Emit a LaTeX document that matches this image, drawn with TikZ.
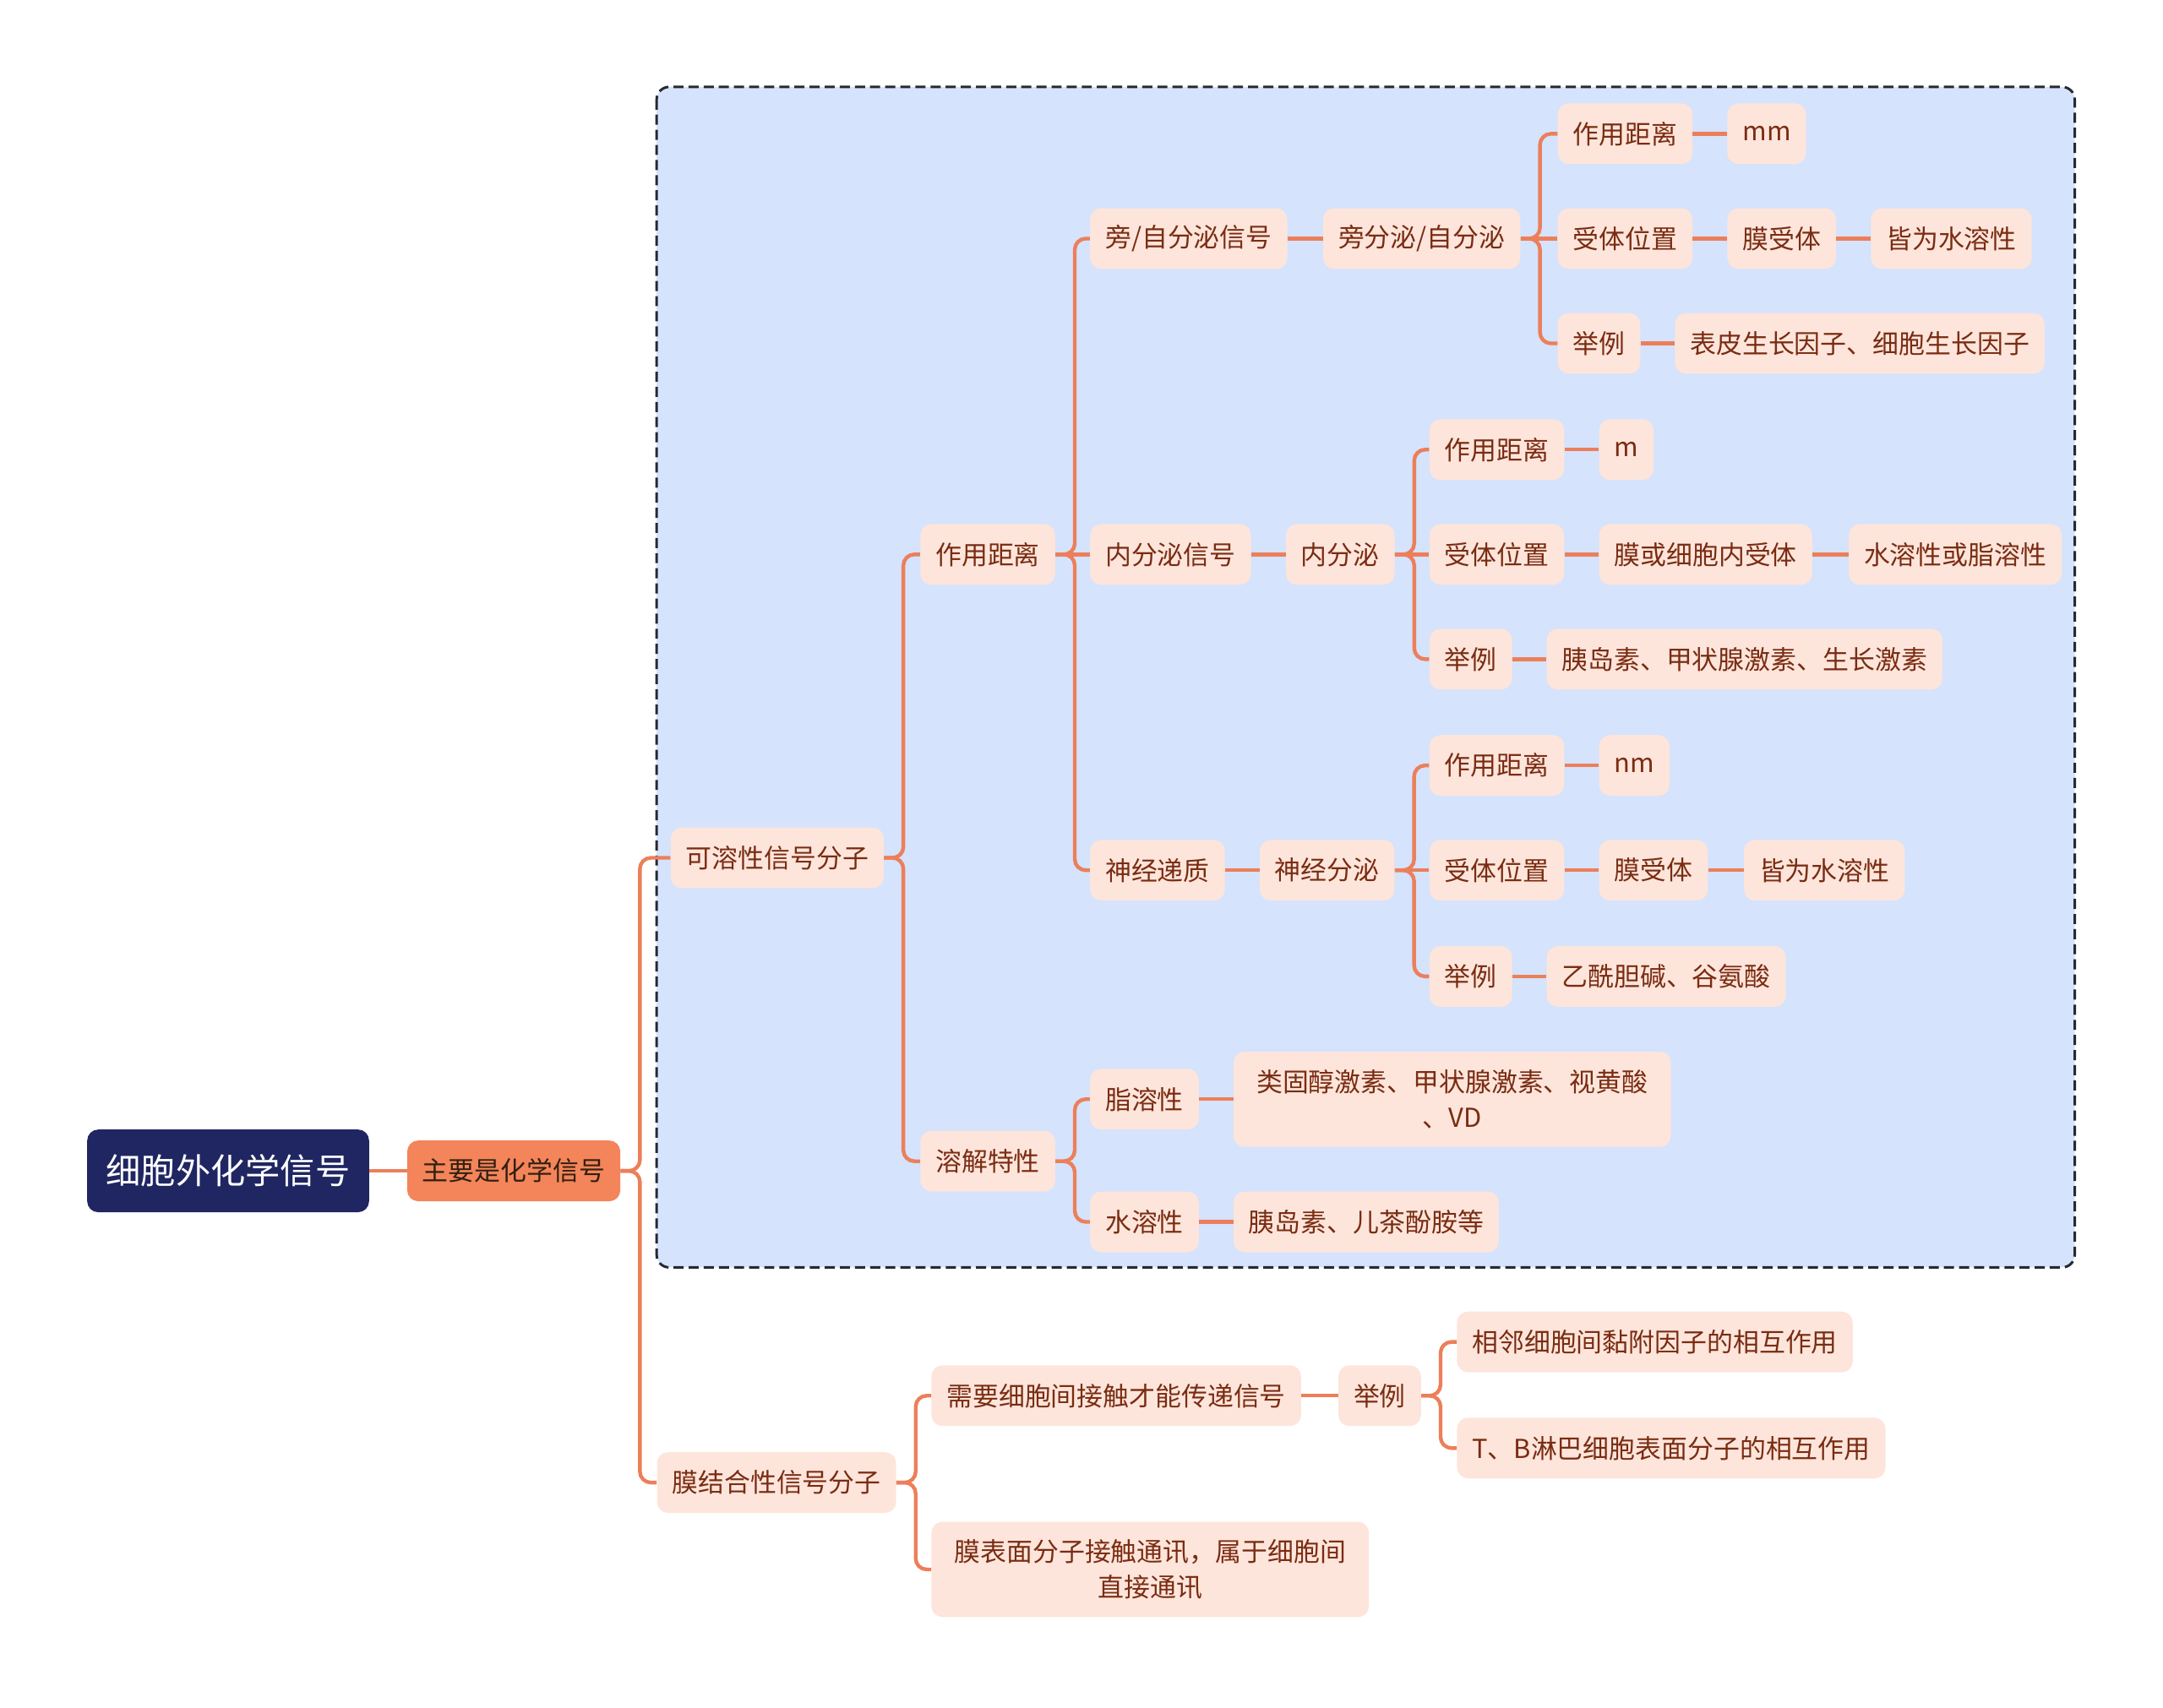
\documentclass[tikz,border=0pt]{standalone}
\usepackage{fontspec}
\setmainfont{Noto Sans CJK SC}
\usetikzlibrary{positioning}

\definecolor{navy}{HTML}{1F2662}
\definecolor{coral}{HTML}{F4845A}
\definecolor{peach}{HTML}{FDE5DB}
\definecolor{linecol}{HTML}{EC7F5A}
\definecolor{txt}{HTML}{7A2C12}
\definecolor{boxblue}{HTML}{D5E3FC}
\definecolor{boxline}{HTML}{262A30}

\begin{document}
\begin{tikzpicture}[x=0.0327cm, y=-0.0327cm,
    every node/.style={anchor=west, rounded corners=0.26cm, inner xsep=0.36cm,
      minimum height=1.44cm, font=\fontsize{17.6}{24}\selectfont},
    topic/.style={fill=peach, text=txt},
    central/.style={fill=navy, text=white, inner xsep=0.45cm, minimum height=1.96cm,
      font=\fontsize{23.5}{28}\selectfont},
    mainbranch/.style={fill=coral, text=black!75!brown},
    link/.style={draw=linecol, line width=2.5pt, rounded corners=0.26cm},
    ]
  \useasboundingbox (0,0) rectangle (1568,1238);
  % dashed group round the soluble molecules
  \draw[fill=boxblue, draw=boxline, dash pattern=on 6.8pt off 3.4pt, line width=1.7pt,
    rounded corners=0.3cm] (476,63) rectangle (1504,919);

  \node[central] (cell) at (63,849) {细胞外化学信号};
  \node[mainbranch] (chem) at (295,849) {主要是化学信号};
  \node[topic] (soluble) at (486,622) {可溶性信号分子};
  \node[topic] (membrane) at (476,1075) {膜结合性信号分子};

  \node[topic] (dist) at (667,402) {作用距离};
  \node[topic] (solub) at (667,842) {溶解特性};
  \node[topic] (para) at (790,173) {旁/自分泌信号};
  \node[topic] (endo) at (790,402) {内分泌信号};
  \node[topic] (neuro) at (790,631) {神经递质};

  % paracrine
  \node[topic] (paraSec) at (959,173) {旁分泌/自分泌};
  \node[topic] (paraDist) at (1129,97) {作用距离};
  \node[topic] (paraMm) at (1252,97) {mm};
  \node[topic] (paraRec) at (1129,173) {受体位置};
  \node[topic] (paraMem) at (1252,173) {膜受体};
  \node[topic] (paraWater) at (1356,173) {皆为水溶性};
  \node[topic] (paraEx) at (1129,249) {举例};
  \node[topic] (paraExList) at (1214,249) {表皮生长因子、细胞生长因子};

  % endocrine
  \node[topic] (endoSec) at (932,402) {内分泌};
  \node[topic] (endoDist) at (1036,326) {作用距离};
  \node[topic] (endoM) at (1159,326) {m};
  \node[topic] (endoRec) at (1036,402) {受体位置};
  \node[topic] (endoMem) at (1159,402) {膜或细胞内受体};
  \node[topic] (endoSol) at (1340,402) {水溶性或脂溶性};
  \node[topic] (endoEx) at (1036,478) {举例};
  \node[topic] (endoExList) at (1121,478) {胰岛素、甲状腺激素、生长激素};

  % neurotransmitter
  \node[topic] (neuroSec) at (913,631) {神经分泌};
  \node[topic] (neuroDist) at (1036,555) {作用距离};
  \node[topic] (neuroNm) at (1159,555) {nm};
  \node[topic] (neuroRec) at (1036,631) {受体位置};
  \node[topic] (neuroMem) at (1159,631) {膜受体};
  \node[topic] (neuroWater) at (1264,631) {皆为水溶性};
  \node[topic] (neuroEx) at (1036,708) {举例};
  \node[topic] (neuroExList) at (1121,708) {乙酰胆碱、谷氨酸};

  % solubility
  \node[topic] (lipid) at (790,797) {脂溶性};
  \node[topic, align=center, minimum width=10.37cm, minimum height=2.26cm] (lipidEx) at (894,797)
    {类固醇激素、甲状腺激素、视黄酸\\、VD};
  \node[topic] (water) at (790,886) {水溶性};
  \node[topic] (waterEx) at (894,886) {胰岛素、儿茶酚胺等};

  % membrane bound
  \node[topic] (contact) at (675,1012) {需要细胞间接触才能传递信号};
  \node[topic] (contactEx) at (970,1012) {举例};
  \node[topic] (adhesion) at (1056,973) {相邻细胞间黏附因子的相互作用};
  \node[topic] (lymph) at (1056,1050) {T、B淋巴细胞表面分子的相互作用};
  \node[topic, align=center, minimum width=10.37cm, minimum height=2.26cm] (direct) at (675,1138)
    {膜表面分子接触通讯，属于细胞间\\直接通讯};

  % elbow links
  \foreach \a/\b in {chem/soluble, chem/membrane,
      soluble/dist, soluble/solub, dist/para, dist/neuro,
      paraSec/paraDist, paraSec/paraEx,
      endoSec/endoDist, endoSec/endoEx,
      neuroSec/neuroDist, neuroSec/neuroEx,
      solub/lipid, solub/water,
      membrane/contact, membrane/direct,
      contactEx/adhesion, contactEx/lymph}
    \draw[link] (\a.east) -- ++(14,0) |- (\b.west);
  % straight links
  \foreach \a/\b in {cell/chem, dist/endo,
      para/paraSec, paraSec/paraRec,
      paraDist/paraMm, paraRec/paraMem, paraMem/paraWater, paraEx/paraExList,
      endo/endoSec, endoSec/endoRec,
      endoDist/endoM, endoRec/endoMem, endoMem/endoSol, endoEx/endoExList,
      neuro/neuroSec, neuroSec/neuroRec,
      neuroDist/neuroNm, neuroRec/neuroMem, neuroMem/neuroWater, neuroEx/neuroExList,
      lipid/lipidEx, water/waterEx, contact/contactEx}
    \draw[link] (\a.east) -- (\b.west);
\end{tikzpicture}
\end{document}
